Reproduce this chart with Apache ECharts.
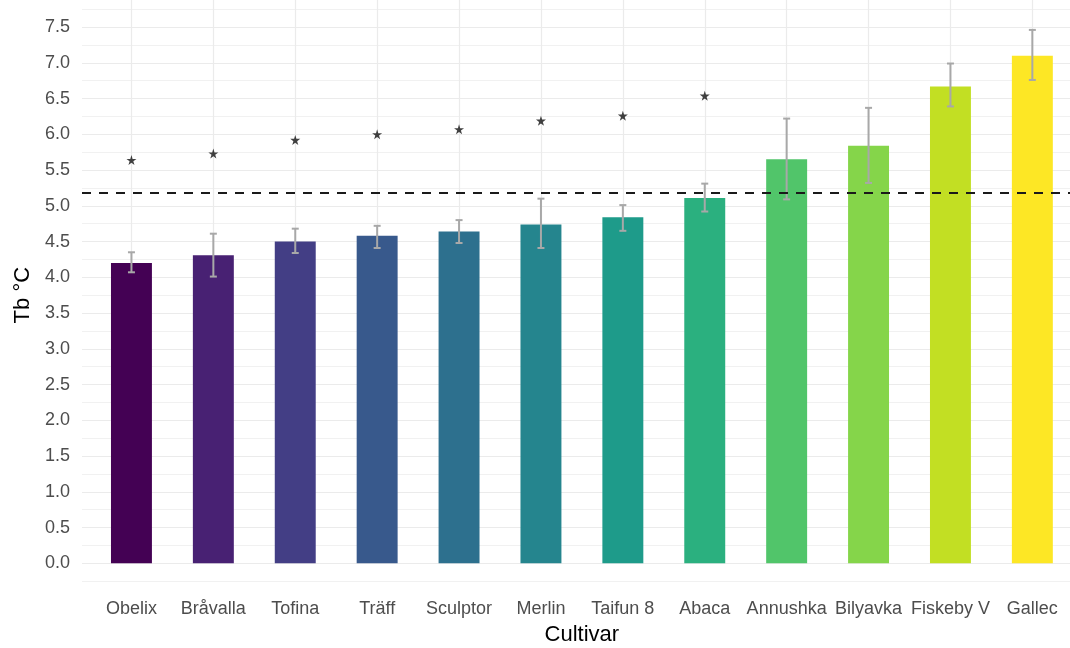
<!DOCTYPE html>
<html>
<head>
<meta charset="utf-8">
<title>Tb by cultivar</title>
<script src="https://cdn.jsdelivr.net/npm/echarts@6/dist/echarts.min.js"></script>
<style>
  html, body { margin: 0; padding: 0; background: #ffffff; }
  #chart { width: 1070px; height: 648px; }
</style>
</head>
<body>
<div id="chart"></div>
<script>
// Cultivars, ordered by base temperature
const cultivars = ['Obelix', 'Bråvalla', 'Tofina', 'Träff', 'Sculptor', 'Merlin',
  'Taifun 8', 'Abaca', 'Annushka', 'Bilyavka', 'Fiskeby V', 'Gallec'];
// Mean base temperature (Tb, °C)
const tbMean = [4.20, 4.31, 4.50, 4.58, 4.64, 4.74, 4.84, 5.11, 5.65, 5.84, 6.67, 7.10];
// Error bar limits
const tbLow  = [4.07, 4.01, 4.34, 4.41, 4.48, 4.41, 4.65, 4.92, 5.09, 5.32, 6.39, 6.76];
const tbHigh = [4.35, 4.61, 4.68, 4.72, 4.80, 5.10, 5.01, 5.31, 6.22, 6.37, 6.99, 7.46];
// Significance markers (null = none)
const starY = [5.64, 5.73, 5.92, 6.00, 6.07, 6.19, 6.26, 6.54, null, null, null, null];
// Reference Tb (dashed line)
const referenceTb = 5.18;
// Labelled y ticks
const yTickLabels = ['0.0', '0.5', '1.0', '1.5', '2.0', '2.5', '3.0', '3.5',
  '4.0', '4.5', '5.0', '5.5', '6.0', '6.5', '7.0', '7.5'];

// viridis palette, one colour per cultivar
const palette = ['#440154', '#482173', '#433E85', '#38598C', '#2D708E', '#25858E',
  '#1E9B8A', '#2BB07F', '#51C56A', '#85D54A', '#C2DF23', '#FDE725'];

const FONT = "'Liberation Sans', Arial, Helvetica, sans-serif";
const GRID_COLOR = '#EBEBEB';

const chart = echarts.init(document.getElementById('chart'), null, { renderer: 'canvas' });

const barData = tbMean.map((v, i) => ({ value: v, itemStyle: { color: palette[i] } }));
const errData = tbMean.map((_, i) => [i, tbLow[i], tbHigh[i]]);
const starData = [];
starY.forEach((v, i) => { if (v !== null) starData.push([i, v]); });

const starPath = 'path://M50,0 L61,35 L98,35 L68,57 L79,91 L50,70 L21,91 L32,57 L2,35 L39,35 Z';

const option = {
  backgroundColor: '#ffffff',
  animation: false,
  grid: [
    // data panel (bars, error bars, markers, vertical grid lines)
    { left: 90.5, right: -3.3, top: 4.17, bottom: 58.25, outerBoundsMode: 'none' },
    // horizontal grid lines, y tick labels, reference line
    { left: 82, right: 0, top: 9.175, bottom: 66.825, outerBoundsMode: 'none' }
  ],
  xAxis: [
    {
      type: 'category', gridIndex: 0, data: cultivars,
      axisLine: { show: false },
      axisTick: { show: true, alignWithLabel: true, inside: true, length: 585.6,
        lineStyle: { color: GRID_COLOR, width: 1.2 } },
      axisLabel: { interval: 0, hideOverlap: false, margin: 10, color: '#4D4D4D',
        fontSize: 18, fontFamily: FONT },
      splitLine: { show: false },
      name: 'Cultivar', nameLocation: 'middle', nameGap: 34,
      nameTextStyle: { color: '#000000', fontSize: 22, fontFamily: FONT }
    },
    {
      type: 'value', gridIndex: 1, min: 0, max: 1, show: false
    }
  ],
  yAxis: [
    {
      type: 'value', gridIndex: 0, min: -0.37, max: 7.82,
      axisLine: { show: false }, axisTick: { show: false },
      axisLabel: { show: false }, splitLine: { show: false }
    },
    {
      type: 'value', gridIndex: 1, min: -0.25, max: 7.75, interval: 0.25,
      axisLine: { show: false }, axisTick: { show: false },
      axisLabel: {
        margin: 12, color: '#4D4D4D', fontSize: 18, fontFamily: FONT,
        formatter: (v) => {
          const s = v.toFixed(1);
          return (Math.abs(v * 2 - Math.round(v * 2)) < 1e-6 && yTickLabels.includes(s)) ? s : '';
        }
      },
      splitLine: { show: true, lineStyle: { color: ['#F1F1F1', GRID_COLOR], width: 1.2 } },
      name: 'Tb °C', nameLocation: 'middle', nameGap: 47, nameRotate: 90,
      nameTextStyle: { color: '#000000', fontSize: 22, fontFamily: FONT }
    }
  ],
  series: [
    {
      name: 'Tb', type: 'bar', xAxisIndex: 0, yAxisIndex: 0,
      barWidth: '50%', data: barData, z: 2
    },
    {
      name: 'error', type: 'custom', xAxisIndex: 0, yAxisIndex: 0, z: 3,
      data: errData,
      renderItem: (params, api) => {
        const lo = api.coord([api.value(0), api.value(1)]);
        const hi = api.coord([api.value(0), api.value(2)]);
        const cap = 3.5;
        const style = { stroke: '#A8A8A8', lineWidth: 2, fill: null };
        return {
          type: 'group',
          children: [
            { type: 'line', shape: { x1: lo[0], y1: lo[1], x2: hi[0], y2: hi[1] }, style },
            { type: 'line', shape: { x1: hi[0] - cap, y1: hi[1], x2: hi[0] + cap, y2: hi[1] }, style },
            { type: 'line', shape: { x1: lo[0] - cap, y1: lo[1], x2: lo[0] + cap, y2: lo[1] }, style }
          ]
        };
      }
    },
    {
      name: 'marker', type: 'scatter', xAxisIndex: 0, yAxisIndex: 0, z: 4,
      symbol: starPath, symbolSize: 10,
      itemStyle: { color: '#111111' },
      data: starData
    },
    {
      name: 'reference', type: 'line', xAxisIndex: 1, yAxisIndex: 1, z: 10,
      data: [],
      markLine: {
        silent: true, symbol: ['none', 'none'], label: { show: false },
        lineStyle: { color: '#1A1A1A', type: [9, 8], width: 2 },
        data: [{ yAxis: referenceTb }]
      }
    }
  ]
};

chart.setOption(option);
</script>
</body>
</html>
